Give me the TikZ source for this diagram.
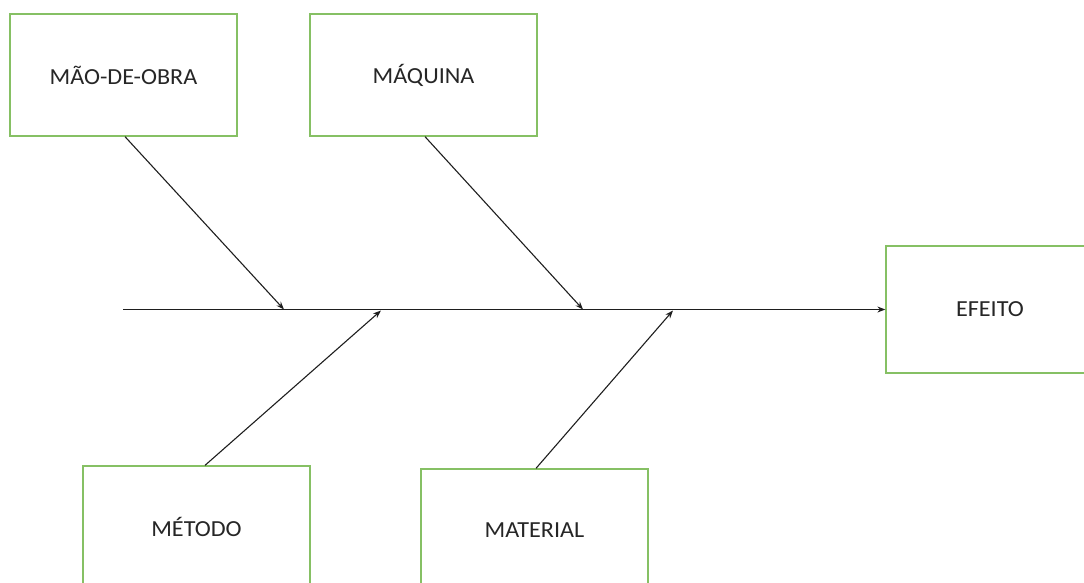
\documentclass[tikz,border=0pt]{standalone}
\usepackage{fontspec}
\setmainfont{Carlito}
\usetikzlibrary{arrows.meta}
\definecolor{boxgreen}{RGB}{134,192,100}
\definecolor{linegray}{RGB}{30,30,30}
\begin{document}
\begin{tikzpicture}[x=1pt,y=-1pt,
  cause/.style={draw=boxgreen,line width=1.3pt,fill=white,minimum width=227pt,minimum height=122pt,inner sep=0pt,
    font=\fontsize{23}{26}\selectfont,text=black!85},
  conn/.style={draw=linegray,line width=1.1pt,-{Stealth[length=8pt,width=6pt]}}]
\useasboundingbox (0,0) rectangle (1084,583);
\node[cause] (mao) at (123.5,75) {\scalebox{1.05}[1]{MÃO-DE-OBRA}};
\node[cause] (maq) at (423.5,75) {\scalebox{1.05}[1]{MÁQUINA}};
\node[cause] (met) at (196.5,527) {\scalebox{1.05}[1]{MÉTODO}};
\node[cause] (mat) at (534.5,530) {\scalebox{1.05}[1]{MATERIAL}};
\node[cause,minimum width=208pt,minimum height=127pt] (efe) at (990,309.5) {\scalebox{1.05}[1]{EFEITO}};
\coordinate (s0) at (123,309.5);
\coordinate (t1) at (284,309.5);
\coordinate (t2) at (381,310.5);
\coordinate (t3) at (583,309.5);
\coordinate (t4) at (673,310.5);
\draw[conn] (s0) -- (efe.west);
\draw[conn] ([xshift=1.5pt]mao.south) -- (t1);
\draw[conn] ([xshift=1.5pt]maq.south) -- (t3);
\draw[conn] ([xshift=8.5pt]met.north) -- (t2);
\draw[conn] ([xshift=1.5pt]mat.north) -- (t4);
\end{tikzpicture}
\end{document}
